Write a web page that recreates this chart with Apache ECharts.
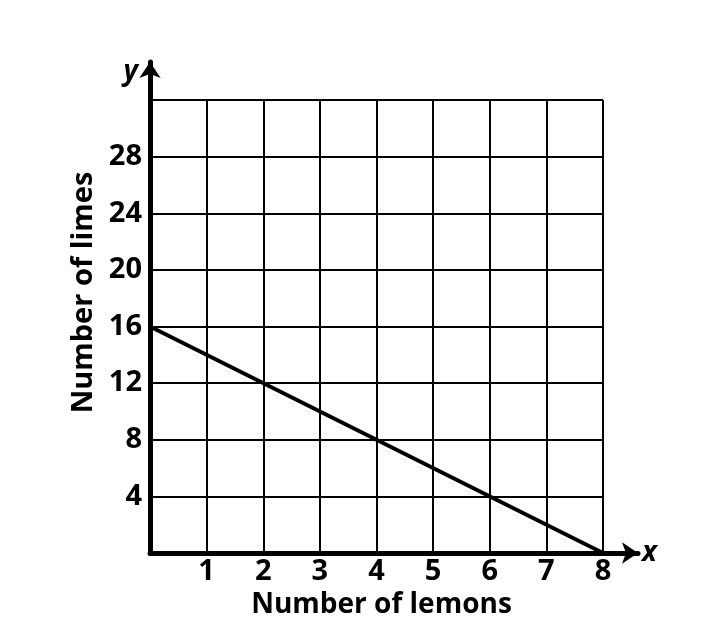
<!DOCTYPE html>
<html>
<head>
    <meta charset="utf-8">
    <title>Lemons and limes</title>
    <script src="https://cdn.jsdelivr.net/npm/echarts@6/dist/echarts.min.js"></script>
</head>
<body style="margin:0;background:#fff;">
    <div id="main" style="width: 704px;height:636px;"></div>
    <script type="text/javascript">
        // data
        var lemons = [0, 8];
        var limes = [16, 0];
        var xTicks = [1, 2, 3, 4, 5, 6, 7, 8];
        var yTicks = [4, 8, 12, 16, 20, 24, 28];

        var FONT = 'Open Sans';
        var points = lemons.map(function (v, i) { return [v, limes[i]]; });

        var myChart = echarts.init(document.getElementById('main'));

        var option = {
            animation: false,
            grid: [
                // the squared paper
                { left: 150, top: 100, width: 453, height: 453 },
                // the axes with their arrows, a bit longer than the paper
                { left: 150, top: 62, width: 488, height: 491 }
            ],
            xAxis: [
                {
                    type: 'value', gridIndex: 0, min: 0, max: 8, interval: 1,
                    name: 'Number of lemons', nameLocation: 'middle', nameGap: 29,
                    nameTextStyle: { fontFamily: FONT, fontWeight: 'bold', fontSize: 28, color: '#000', padding: [0, 0, 0, 10] },
                    axisLine: { show: false },
                    axisTick: { show: false },
                    splitLine: { show: true, lineStyle: { color: '#000', width: 2 } },
                    axisLabel: {
                        margin: 4, fontFamily: FONT, fontWeight: 'bold', fontSize: 29, color: '#000',
                        formatter: function (v) { return xTicks.indexOf(v) >= 0 ? v : ''; }
                    }
                },
                {
                    type: 'value', gridIndex: 1, min: 0, max: 8 * 488 / 453,
                    name: 'x', nameLocation: 'end', nameGap: 4,
                    nameTextStyle: { fontFamily: FONT, fontStyle: 'italic', fontWeight: 'bold', fontSize: 28, color: '#000' },
                    axisLine: { show: true, symbol: ['none', 'arrow'], symbolSize: [16, 16], lineStyle: { color: '#000', width: 5 } },
                    axisTick: { show: false }, axisLabel: { show: false }, splitLine: { show: false }
                }
            ],
            yAxis: [
                {
                    type: 'value', gridIndex: 0, min: 0, max: 32, interval: 4,
                    name: 'Number of limes', nameLocation: 'middle', nameGap: 51,
                    nameTextStyle: { fontFamily: FONT, fontWeight: 'bold', fontSize: 29, color: '#000', padding: [0, 0, 0, 68] },
                    axisLine: { show: false },
                    axisTick: { show: false },
                    splitLine: { show: true, lineStyle: { color: '#000', width: 2 } },
                    axisLabel: {
                        margin: 8, fontFamily: FONT, fontWeight: 'bold', fontSize: 29, color: '#000',
                        formatter: function (v) { return yTicks.indexOf(v) >= 0 ? v : ''; }
                    }
                },
                {
                    type: 'value', gridIndex: 1, min: 0, max: 32 * 491 / 453,
                    name: 'y', nameLocation: 'end', nameGap: -10,
                    nameTextStyle: { fontFamily: FONT, fontStyle: 'italic', fontWeight: 'bold', fontSize: 28, color: '#000', align: 'right', verticalAlign: 'middle', padding: [0, 12, 0, 0] },
                    axisLine: { show: true, symbol: ['none', 'arrow'], symbolSize: [16, 16], lineStyle: { color: '#000', width: 5 } },
                    axisTick: { show: false }, axisLabel: { show: false }, splitLine: { show: false }
                }
            ],
            series: [
                {
                    type: 'line', xAxisIndex: 0, yAxisIndex: 0,
                    data: points,
                    symbol: 'none',
                    lineStyle: { color: '#000', width: 4 }
                }
            ]
        };

        myChart.setOption(option);
    </script>
</body>
</html>
